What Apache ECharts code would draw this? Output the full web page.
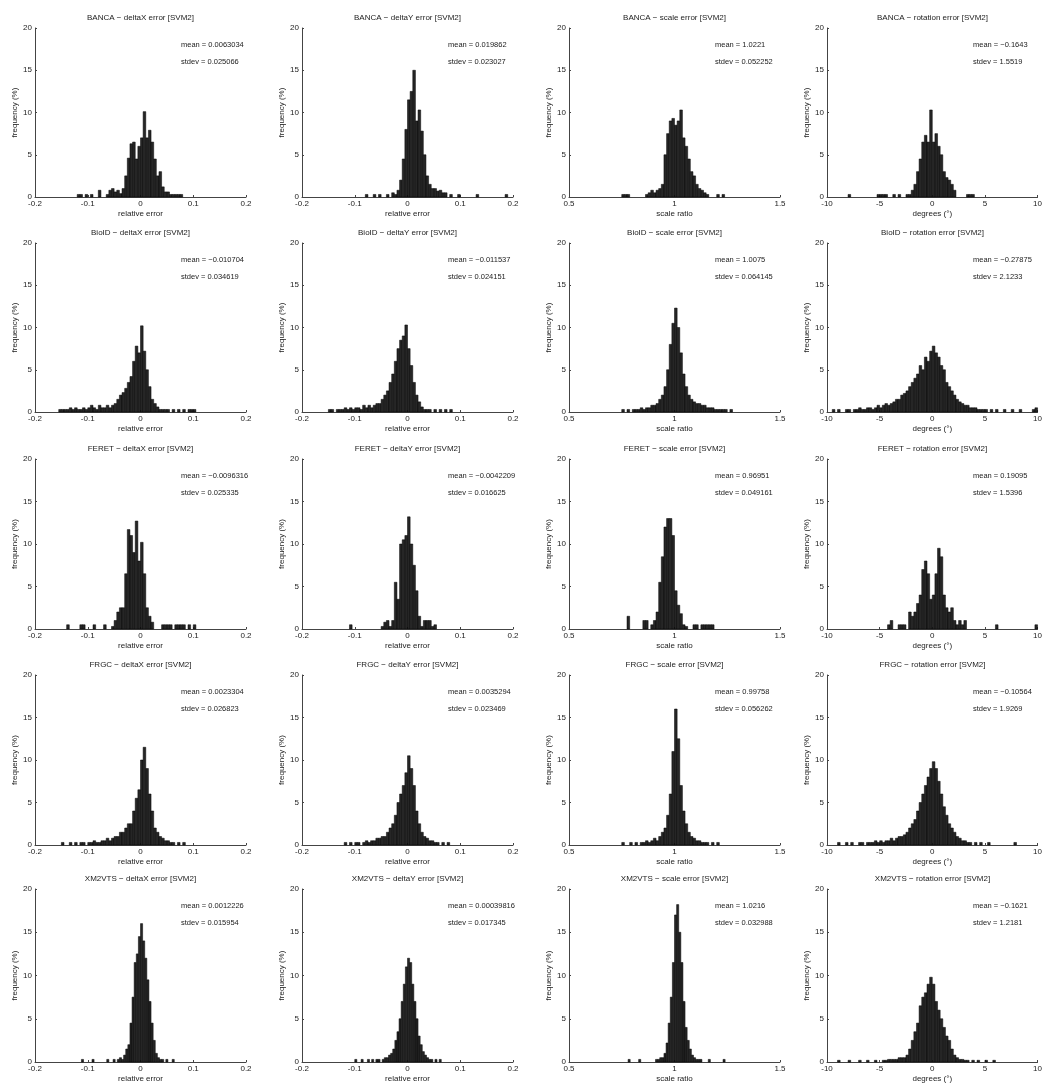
<!DOCTYPE html>
<html>
<head>
<meta charset="utf-8">
<script src="https://cdn.jsdelivr.net/npm/echarts@6/dist/echarts.min.js"></script>
<style>
  html, body { margin: 0; background: #fff; }
  #chart { width: 1045px; height: 1084px; }
</style>
</head>
<body>
<div id="chart"></div>
<script>
// histogram heights (frequency %), one value per bin
// BANCA
var bancaDx = [0.3,0.3,0,0.3,0,0.3,0,0,0.8,0,0,0.3,0.8,1.0,0.6,0.8,0.4,1.0,2.5,4.6,6.3,6.5,4.5,6.0,7.0,10.1,7.0,7.9,6.5,4.5,2.5,3.0,1.2,0.6,0.6,0.3,0.3,0.3,0.3,0.3];
var bancaDy = [0.3,0,0,0.3,0,0.3,0,0,0.3,0,0.5,0.3,0.8,2.0,4.5,8.0,11.5,12.5,15.0,9.0,10.3,7.8,5.0,2.5,1.5,1.0,1.0,0.7,0.8,0.5,0.5,0,0.3,0,0,0.3,0,0,0,0,0,0,0.3,0,0,0,0,0,0,0,0,0,0,0.3];
var bancaSc = [0.3,0.3,0.3,0,0,0,0,0,0,0.3,0.5,0.8,0.5,0.8,1.0,1.5,5.0,7.5,9.0,9.3,8.5,9.0,10.3,7.0,6.0,4.5,3.0,2.5,1.5,1.0,0.8,0.5,0.3,0,0,0,0.3,0,0.3];
var bancaRo = [0.3,0,0,0,0,0,0,0,0,0,0,0.3,0.3,0.3,0.3,0,0,0.3,0,0.3,0,0,0.3,0.3,0.8,1.5,3.0,4.5,6.5,7.3,6.5,10.3,6.5,7.5,6.0,5.0,3.0,2.3,2.0,1.5,0.8,0,0,0,0,0.3,0.3,0.3];
// BioID
var bioidDx = [0.3,0.3,0.3,0.3,0.5,0.3,0.5,0.3,0.3,0.5,0.3,0.5,0.8,0.5,0.3,0.8,0.5,0.5,0.8,0.5,0.8,1.0,1.5,2.0,2.3,2.8,3.5,4.2,6.0,7.8,7.0,10.2,7.2,5.0,3.0,1.5,1.0,0.6,0.3,0.3,0.3,0.3,0,0.3,0,0.3,0,0.3,0,0.3,0.3,0.3];
var bioidDy = [0.3,0.3,0,0.3,0.3,0.3,0.5,0.3,0.5,0.3,0.5,0.5,0.3,0.8,0.5,0.8,0.5,0.8,1.0,1.0,1.5,2.0,2.5,3.5,4.5,6.0,7.5,8.5,9.0,10.3,7.5,5.5,3.5,2.0,1.2,0.6,0.3,0.3,0.3,0,0.3,0,0.3,0,0.3,0,0.3];
var bioidSc = [0.3,0,0.3,0,0.3,0.3,0.3,0.5,0.3,0.5,0.5,0.8,0.8,1.0,1.5,2.0,3.0,5.0,8.0,10.5,12.3,10.0,7.0,4.5,3.0,2.0,1.5,1.2,1.0,1.0,0.8,0.8,0.5,0.5,0.5,0.3,0.3,0.3,0.3,0.3,0,0.3];
var bioidRo = [0.3,0,0.3,0,0,0.3,0.3,0,0.3,0.3,0.5,0.3,0.3,0.5,0.5,0.3,0.5,0.8,0.5,0.8,1.0,0.8,1.0,1.2,1.5,1.5,2.0,2.2,2.5,3.0,3.5,4.0,4.5,5.5,5.0,6.5,6.0,7.2,7.8,7.0,6.5,5.5,5.0,3.5,3.0,2.5,2.0,1.5,1.2,1.0,0.8,0.8,0.5,0.5,0.5,0.3,0.3,0.3,0.3,0,0.3,0,0.3,0,0,0.3,0,0,0.3,0,0,0.3,0,0,0,0,0.3,0.5];
// FERET
var feretDx = [0.5,0,0,0,0,0.5,0.5,0,0,0,0.5,0,0,0,0.5,0,0,0.3,1.0,2.0,2.5,2.5,6.5,11.7,11.0,9.0,12.7,8.0,10.2,6.5,2.5,1.5,0.8,0,0,0,0.5,0.5,0.5,0.5,0,0.5,0.5,0.5,0.5,0,0.5,0,0.5];
var feretDy = [0.5,0,0,0,0,0,0,0,0,0,0,0,0.3,0.8,1.0,0.3,1.0,5.5,3.5,10.0,10.5,11.0,13.2,10.0,7.5,4.5,1.5,0.3,1.0,1.0,1.0,0.3,0.5];
var feretSc = [1.5,0,0,0,0,0,1.0,1.0,0,0.5,1.0,2.0,5.5,8.5,12.0,13.0,13.0,11.0,4.5,2.8,1.8,0.5,0.3,0,0,0.5,0.5,0,0.5,0.5,0.5,0.5,0.5];
var feretRo = [0.5,1.0,0,0,0.5,0.5,0.5,0,2.0,1.5,2.0,3.0,4.0,7.0,8.0,6.5,3.5,4.0,6.5,9.5,8.5,4.0,2.5,2.0,2.5,1.0,0.5,1.0,0.5,1.0,0,0,0,0,0,0,0,0,0,0,0,0.5,0,0,0,0,0,0,0,0,0,0,0,0,0,0,0.5];
// FRGC
var frgcDx = [0.3,0,0,0.3,0,0.3,0,0.3,0.3,0,0.3,0.3,0.5,0.3,0.3,0.5,0.5,0.8,0.5,0.8,1.0,1.0,1.5,1.5,2.0,2.5,2.5,4.0,5.5,6.5,10.0,11.5,9.0,6.0,4.0,2.0,1.5,1.0,0.8,0.5,0.5,0.3,0.3,0,0.3,0,0.3];
var frgcDy = [0.3,0,0.3,0,0.3,0.3,0,0.3,0.5,0.3,0.5,0.5,0.8,0.8,1.0,1.0,1.5,2.0,2.5,3.5,5.0,6.0,7.0,8.5,10.5,9.0,7.0,4.0,2.5,1.5,1.0,0.8,0.5,0.5,0.3,0.3,0,0.3,0,0.3];
var frgcSc = [0.3,0,0,0.3,0,0.3,0,0.3,0.3,0.5,0.3,0.5,0.8,0.5,1.0,1.5,2.0,3.5,6.0,11.0,16.0,12.5,7.0,4.0,2.5,1.5,1.0,0.8,0.5,0.5,0.3,0.3,0.3,0,0.3,0,0.3];
var frgcRo = [0.3,0,0,0.3,0,0.3,0,0,0.3,0.3,0,0.3,0.3,0.3,0.5,0.3,0.5,0.3,0.5,0.5,0.8,0.5,0.8,1.0,1.0,1.2,1.5,2.0,2.5,3.0,4.0,5.0,6.0,7.0,8.0,9.0,9.8,9.0,7.5,6.0,4.5,3.5,2.5,2.0,1.5,1.0,0.8,0.5,0.5,0.3,0.3,0,0.3,0,0.3,0,0,0.3,0,0,0,0,0,0,0,0,0,0.3];
// XM2VTS
var xmDx = [0.3,0,0,0,0,0.3,0,0,0,0,0,0,0.3,0,0,0.3,0,0.3,0.5,0.3,0.8,1.5,2.0,4.5,7.5,11.5,12.5,14.5,16.0,14.0,12.0,9.5,7.0,4.5,2.5,1.0,0.5,0.3,0.3,0,0.3,0,0,0.3];
var xmDy = [0.3,0,0,0.3,0,0,0.3,0,0.3,0,0.3,0.3,0,0.3,0.5,0.5,0.8,1.0,1.5,2.5,3.5,5.0,7.0,9.0,11.0,12.0,11.5,9.0,7.0,5.0,3.0,2.0,1.2,0.8,0.5,0.3,0.3,0,0.3,0,0.3];
var xmSc = [0.3,0,0,0,0,0.3,0,0,0,0,0,0,0,0.3,0.3,0.5,0.5,1.0,2.2,4.5,7.5,11.5,17.0,18.2,15.0,11.5,7.0,4.0,2.5,1.5,0.8,0.5,0.3,0.3,0.3,0,0,0,0.3,0,0,0,0,0,0,0.3];
var xmRo = [0.2,0,0,0,0.2,0,0,0,0.2,0,0,0.2,0,0,0.2,0,0,0.2,0.2,0.3,0.3,0.3,0.3,0.5,0.5,0.5,0.8,1.5,2.5,3.5,4.5,6.5,7.5,8.0,9.0,9.8,9.0,7.0,6.0,5.0,4.0,3.0,2.5,1.5,0.8,0.5,0.3,0.3,0.2,0.2,0,0.2,0,0.2,0,0,0.2,0,0,0.2];

// left edge of first bin and bin width for every panel, row by row
var binStart = [
  [-0.12, -0.08, 0.75, -8],
  [-0.155, -0.15, 0.75, -9.5],
  [-0.14, -0.11, 0.775, -4.25],
  [-0.15, -0.12, 0.75, -9],
  [-0.112, -0.1, 0.78, -9]
];
var binWidth = [
  [0.005, 0.005, 0.0125, 0.25],
  [0.005, 0.005, 0.0125, 0.25],
  [0.005, 0.005, 0.0125, 0.25],
  [0.005, 0.005, 0.0125, 0.25],
  [0.004, 0.004, 0.01, 0.25]
];
var heights = [
  [bancaDx, bancaDy, bancaSc, bancaRo],
  [bioidDx, bioidDy, bioidSc, bioidRo],
  [feretDx, feretDy, feretSc, feretRo],
  [frgcDx, frgcDy, frgcSc, frgcRo],
  [xmDx, xmDy, xmSc, xmRo]
];

var databases = ['BANCA', 'BioID', 'FERET', 'FRGC', 'XM2VTS'];
var errorKinds = ['deltaX', 'deltaY', 'scale', 'rotation'];
var xLabels = ['relative error', 'relative error', 'scale ratio', 'degrees (\u00b0)'];
var xMin = [-0.2, -0.2, 0.5, -10];
var xMax = [0.2, 0.2, 1.5, 10];
var xStep = [0.1, 0.1, 0.5, 5];

var means = [
  ['0.0063034', '0.019862', '1.0221', '\u22120.1643'],
  ['\u22120.010704', '\u22120.011537', '1.0075', '\u22120.27875'],
  ['\u22120.0096316', '\u22120.0042209', '0.96951', '0.19095'],
  ['0.0023304', '0.0035294', '0.99758', '\u22120.10564'],
  ['0.0012226', '0.00039816', '1.0216', '\u22120.1621']
];
var stdevs = [
  ['0.025066', '0.023027', '0.052252', '1.5519'],
  ['0.034619', '0.024151', '0.064145', '2.1233'],
  ['0.025335', '0.016625', '0.049161', '1.5396'],
  ['0.026823', '0.023469', '0.056262', '1.9269'],
  ['0.015954', '0.017345', '0.032988', '1.2181']
];

// layout of the 5x4 panel grid
var colLeft = [35, 302, 569, 827];
var rowTop = [28, 243, 459, 675, 889];
var rowH = [169, 169, 170, 170, 173];
var plotW = 211;

var fontName = 'Liberation Sans, Arial, sans-serif';
var ink = '#222';

function toBars(h, start, w) {
  var out = [];
  h.forEach(function (v, i) {
    if (v > 0) out.push([start + i * w, start + (i + 1) * w, v]);
  });
  return out;
}

function renderBar(params, api) {
  var p0 = api.coord([api.value(0), api.value(2)]);
  var p1 = api.coord([api.value(1), 0]);
  return {
    type: 'rect',
    shape: { x: p0[0], y: p0[1], width: p1[0] - p0[0], height: p1[1] - p0[1] },
    style: { fill: '#262626', stroke: '#000', lineWidth: 0.5 }
  };
}

function fmtTick(v) {
  return String(Math.round(v * 100) / 100);
}

var grids = [], xAxes = [], yAxes = [], series = [], texts = [];

for (var r = 0; r < 5; r++) {
  for (var c = 0; c < 4; c++) {
    var idx = r * 4 + c;
    var gx = colLeft[c], gy = rowTop[r];
    grids.push({ left: gx, top: gy, width: plotW, height: rowH[r] });
    xAxes.push({
      gridIndex: idx, type: 'value',
      min: xMin[c], max: xMax[c], interval: xStep[c],
      name: xLabels[c], nameLocation: 'middle', nameGap: 13,
      nameTextStyle: { fontSize: 8, color: ink, fontFamily: fontName },
      axisLine: { onZero: false, lineStyle: { color: '#444', width: 1 } },
      axisTick: { inside: true, length: 2, lineStyle: { color: '#444' } },
      axisLabel: { fontSize: 8, color: ink, fontFamily: fontName, margin: 3, formatter: fmtTick },
      splitLine: { show: false }
    });
    yAxes.push({
      gridIndex: idx, type: 'value',
      min: 0, max: 20, interval: 5,
      name: 'frequency (%)', nameLocation: 'middle', nameGap: 14, nameRotate: 90,
      nameTextStyle: { fontSize: 8, color: ink, fontFamily: fontName },
      axisLine: { show: true, onZero: false, lineStyle: { color: '#444', width: 1 } },
      axisTick: { show: true, inside: true, length: 2, lineStyle: { color: '#444' } },
      axisLabel: { fontSize: 8, color: ink, fontFamily: fontName, margin: 3 },
      splitLine: { show: false }
    });
    series.push({
      type: 'custom',
      xAxisIndex: idx, yAxisIndex: idx,
      renderItem: renderBar,
      encode: { x: [0, 1], y: 2 },
      data: toBars(heights[r][c], binStart[r][c], binWidth[r][c]),
      silent: true
    });
    texts.push({
      type: 'text', x: gx + plotW / 2, y: gy - 10,
      style: { text: databases[r] + ' \u2212 ' + errorKinds[c] + ' error [SVM2]', align: 'center', verticalAlign: 'middle',
               fontSize: 8, fill: ink, fontFamily: fontName }
    });
    texts.push({
      type: 'text', x: gx + 146, y: gy + 17,
      style: { text: 'mean = ' + means[r][c], align: 'left', verticalAlign: 'middle', fontSize: 7.5, fill: ink, fontFamily: fontName }
    });
    texts.push({
      type: 'text', x: gx + 146, y: gy + 34,
      style: { text: 'stdev = ' + stdevs[r][c], align: 'left', verticalAlign: 'middle', fontSize: 7.5, fill: ink, fontFamily: fontName }
    });
  }
}

var chart = echarts.init(document.getElementById('chart'));
chart.setOption({
  animation: false,
  backgroundColor: '#fff',
  grid: grids,
  xAxis: xAxes,
  yAxis: yAxes,
  series: series,
  graphic: texts
});
</script>
</body>
</html>
